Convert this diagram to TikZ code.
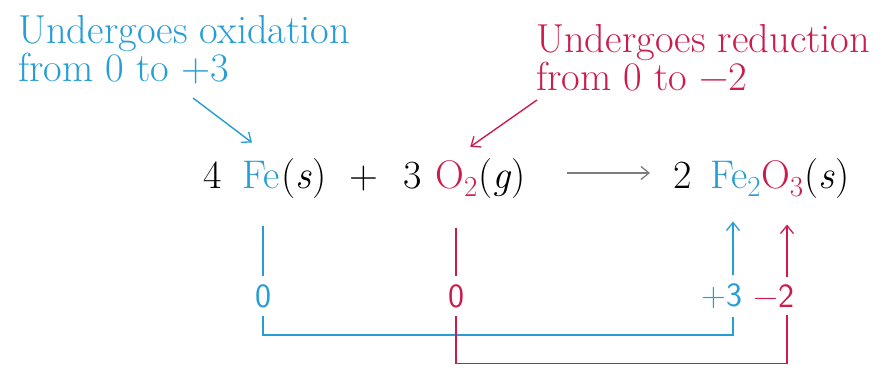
\documentclass[tikz,border=0pt]{standalone}
\usetikzlibrary{arrows.meta,positioning}
\definecolor{oxblue}{RGB}{38,157,212}
\definecolor{redred}{RGB}{204,28,78}
\definecolor{rxgray}{RGB}{125,125,125}
\newcommand{\chemsub}[1]{\raisebox{-0.22em}{\fontsize{29}{29}\selectfont #1}}
\tikzset{
  eq/.style={inner sep=0pt,anchor=base west,font=\fontsize{40}{48}\selectfont},
  title/.style={inner sep=0pt,anchor=north west,align=left,font=\fontsize{40.5}{38}\selectfont},
  num/.style={inner sep=0pt,outer xsep=0pt,outer ysep=8pt,font=\sffamily\fontsize{34}{40}\selectfont},
  barb/.style={-{Straight Barb[length=8pt,width=13pt,line width=1.3pt]}},
  oxline/.style={draw=oxblue,line width=1.4pt},
  redline/.style={draw=redred,line width=1.4pt}
}
\begin{document}
\begin{tikzpicture}[x=1pt,y=-1pt]
\useasboundingbox (0,0) rectangle (884,367);
\node[title,text=oxblue] (oxlabel) at (18,15) {Undergoes oxidation\\from 0 to +3};
\node[title,text=redred] (redlabel) at (536,24) {Undergoes reduction\\from 0 to −2};
\node[eq] (four) at (203,188) {4};
\node[eq,text=oxblue] (fe) at (242,188) {Fe};
\node[eq] (fes) at ([xshift=2pt]fe.base east) {(\textit{s})};
\node[eq] (plus) at (349,188) {+};
\node[eq] (three) at (403,188) {3};
\node[eq,text=redred] (otwo) at (435,188) {O\chemsub{2}};
\node[eq] (og) at ([xshift=1pt]otwo.base east) {(\textit{g})};
\node[eq] (twoprod) at (673,188) {2};
\node[eq,text=oxblue] (feprod) at (710,188) {Fe\chemsub{2}};
\node[eq,text=redred] (oprod) at (feprod.base east) {O\chemsub{3}};
\node[eq] (prods) at ([xshift=1pt]oprod.base east) {(\textit{s})};
\draw[rxgray,line width=1.6pt,barb] (567,173) -- ([xshift=-23pt,yshift=15pt]twoprod.base west);
\coordinate (oxtail) at (193,98);
\coordinate (redtail) at (537,100);
\draw[oxline,barb] (oxtail) -- ([xshift=10pt,yshift=18pt]fe.north west);
\draw[redline,barb] (redtail) -- ([xshift=14pt,yshift=13pt]otwo.north);
\node[num,text=oxblue] (fezero) at (263,296) {0};
\node[num,text=redred] (ozero) at (456,296) {0};
\node[num,text=oxblue] (plusthree) at (722,296) {+3};
\node[num,text=redred] (minustwo) at (774,296) {−2};
\draw[oxline] (fezero.north) -- ++(0,-50);
\draw[redline] (ozero.north) -- ++(0,-48);
\draw[oxline,line width=2.4pt] (fezero.south) -- ++(0,19) -| ([xshift=11pt]plusthree.south);
\draw[redline] (ozero.south) -- ++(0,48) -| ([xshift=13pt]minustwo.south);
\draw[oxline,barb] ([xshift=11pt]plusthree.north) -- ++(0,-54);
\draw[redline,barb] ([xshift=13pt]minustwo.north) -- ++(0,-52);
\end{tikzpicture}
\end{document}
